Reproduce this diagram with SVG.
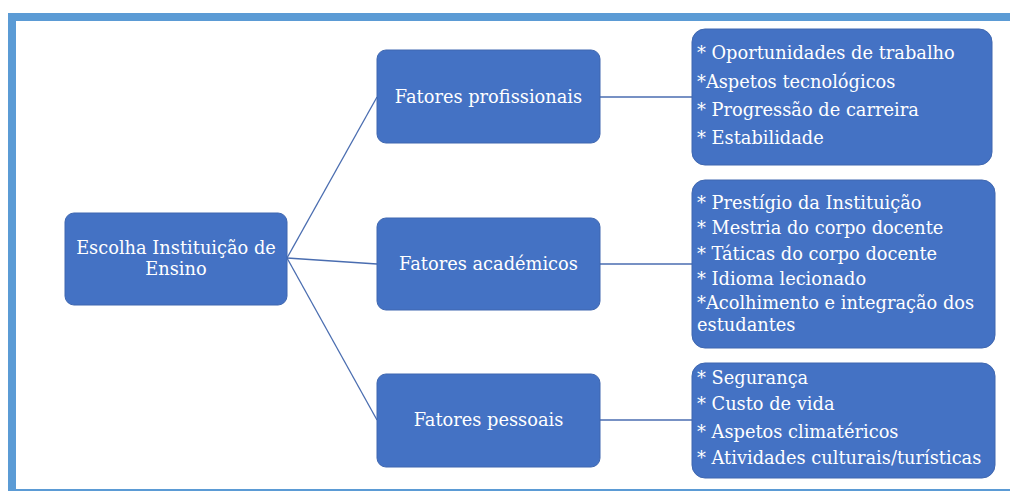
<svg xmlns="http://www.w3.org/2000/svg" width="1010" height="491" viewBox="0 0 1010 491">
<style>
.box{fill:#4472c4;stroke:#3f67b0;stroke-width:1}
.t{font-family:"DejaVu Serif","Liberation Serif",serif;font-size:17.8px;fill:#ffffff}
.c{text-anchor:middle}
.ln{stroke:#4a6db0;stroke-width:1.3;fill:none}
</style>
<rect x="0" y="0" width="1010" height="491" fill="#ffffff"/>
<g id="frame">
<rect x="8" y="13" width="1010" height="8" fill="#5b9bd5"/>
<rect x="8" y="13" width="8" height="478" fill="#5b9bd5"/>
<rect x="8" y="489" width="1010" height="2" fill="#5b9bd5"/>
</g>
<g id="connectors">
<line class="ln" x1="287" y1="258" x2="377" y2="97"/>
<line class="ln" x1="287" y1="258" x2="377" y2="264"/>
<line class="ln" x1="287" y1="258" x2="377" y2="420"/>
<line class="ln" x1="600" y1="97" x2="692" y2="97"/>
<line class="ln" x1="600" y1="264" x2="692" y2="264"/>
<line class="ln" x1="600" y1="420" x2="692" y2="420"/>
</g>
<g id="root">
<rect class="box" x="65" y="213" width="222" height="92" rx="9"/>
<text class="t c" x="176" y="254">Escolha Instituição de</text>
<text class="t c" x="176" y="275">Ensino</text>
</g>
<g id="prof">
<rect class="box" x="377" y="50" width="223" height="93" rx="9"/>
<text class="t c" x="488.5" y="103">Fatores profissionais</text>
</g>
<g id="acad">
<rect class="box" x="377" y="218" width="223" height="92" rx="9"/>
<text class="t c" x="488.5" y="270">Fatores académicos</text>
</g>
<g id="pess">
<rect class="box" x="377" y="374" width="223" height="93" rx="9"/>
<text class="t c" x="488.5" y="426">Fatores pessoais</text>
</g>
<g id="list1">
<rect class="box" x="692" y="29" width="300" height="136" rx="13"/>
<text class="t" x="697" y="59">* Oportunidades de trabalho</text>
<text class="t" x="697" y="88">*Aspetos tecnológicos</text>
<text class="t" x="697" y="116">* Progressão  de carreira</text>
<text class="t" x="697" y="144">* Estabilidade</text>
</g>
<g id="list2">
<rect class="box" x="692" y="180" width="303" height="168" rx="13"/>
<text class="t" x="697" y="209">* Prestígio da Instituição</text>
<text class="t" x="697" y="234">* Mestria do corpo docente</text>
<text class="t" x="697" y="260">* Táticas do corpo docente</text>
<text class="t" x="697" y="285">* Idioma lecionado</text>
<text class="t" x="697" y="309">*Acolhimento e integração dos</text>
<text class="t" x="697" y="331">estudantes</text>
</g>
<g id="list3">
<rect class="box" x="692" y="363" width="303" height="115" rx="13"/>
<text class="t" x="697" y="384">* Segurança</text>
<text class="t" x="697" y="410">* Custo de vida</text>
<text class="t" x="697" y="438">* Aspetos climatéricos</text>
<text class="t" x="697" y="464">* Atividades culturais/turísticas</text>
</g>
</svg>
